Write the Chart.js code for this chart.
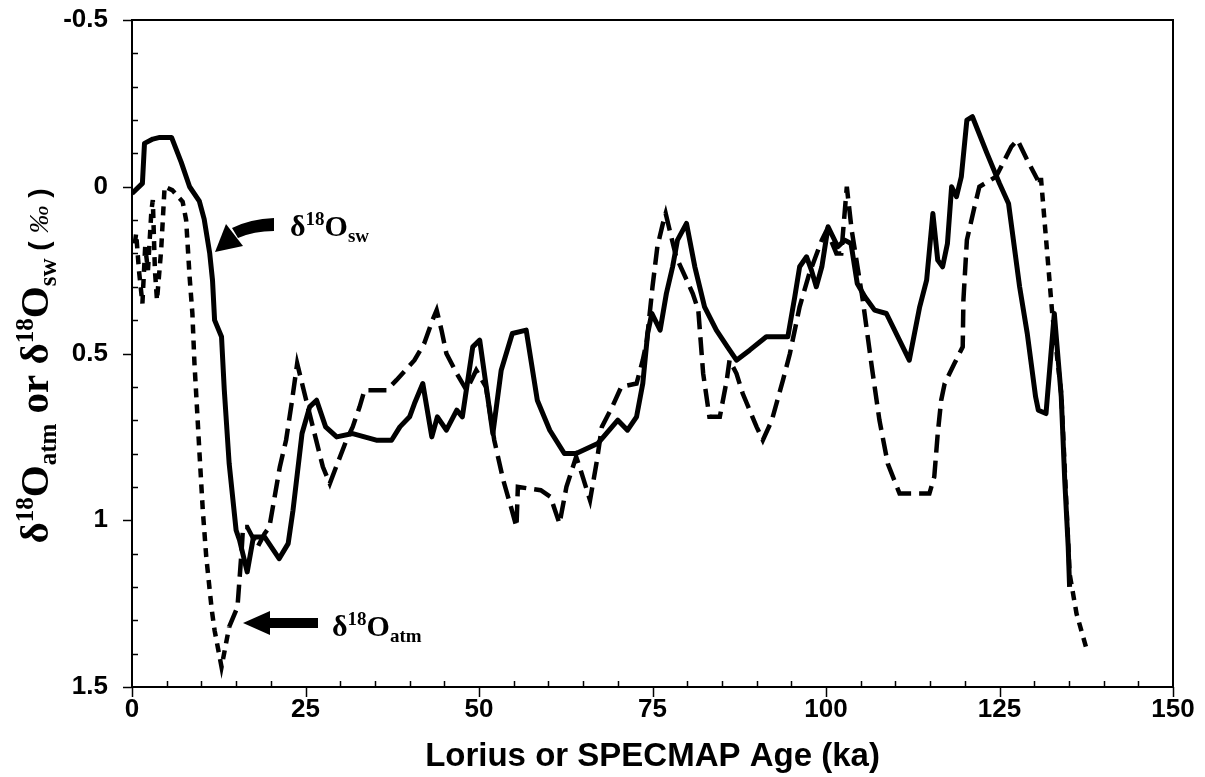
<!DOCTYPE html>
<html>
<head>
<meta charset="utf-8">
<script src="https://cdn.jsdelivr.net/npm/chart.js@4.4.1/dist/chart.umd.min.js"></script>
<style>
  html, body { margin: 0; padding: 0; background: #fff; }
  #wrap { width: 1205px; height: 777px; }
</style>
</head>
<body>
<div id="wrap"><canvas id="chart" width="1205" height="777"></canvas></div>
<script>
// d18O seawater (solid line): age in ka, value in permil
const swAge = [0, 1.5, 1.8, 3.0, 4.0, 5.7, 7.1, 8.3, 9.7, 10.4, 11.2, 11.6, 11.9, 12.9, 13.3, 14.0, 15.0, 15.5, 16.6, 17.5,
  19.1, 21.2, 22.5, 23.2, 24.5, 25.6, 26.6, 27.9, 29.5, 31.8, 35.2, 37.4, 38.6, 40.0, 40.7, 41.9, 43.2, 44.0, 45.3, 46.8,
  47.6, 49.1, 50.1, 52.0, 53.2, 54.8, 56.8, 58.4, 60.2, 62.3, 64.0, 67.1, 70.0, 71.4, 72.7, 73.6, 74.3, 74.9, 76.1, 77.0,
  77.9, 78.6, 79.9, 81.1, 82.5, 84.2, 85.8, 87.1, 89.0, 91.4, 94.5, 95.5, 96.2, 97.2, 97.9, 98.6, 99.4, 100.3, 101.0, 101.7,
  102.7, 103.6, 104.5, 105.6, 107.0, 108.7, 112.0, 113.5, 114.5, 115.4, 116.1, 116.8, 117.5, 118.1, 118.8, 119.5, 120.3, 121.1, 123.2, 125.0,
  126.3, 127.9, 129.0, 130.2, 130.6, 131.7, 132.9, 133.9, 134.4, 134.9, 135.1];
const swVal = [0.02, -0.01, -0.13, -0.143, -0.148, -0.148, -0.073, 0.0, 0.043, 0.097, 0.2, 0.28, 0.40, 0.45, 0.61, 0.83, 1.03, 1.06, 1.155, 1.05,
  1.05, 1.115, 1.07, 0.97, 0.74, 0.66, 0.64, 0.72, 0.75, 0.74, 0.76, 0.76, 0.72, 0.69, 0.65, 0.59, 0.75, 0.69, 0.73, 0.67,
  0.69, 0.48, 0.46, 0.74, 0.55, 0.44, 0.43, 0.64, 0.73, 0.80, 0.80, 0.77, 0.70, 0.73, 0.69, 0.59, 0.44, 0.38, 0.43, 0.32,
  0.24, 0.16, 0.11, 0.24, 0.36, 0.43, 0.48, 0.52, 0.49, 0.45, 0.45, 0.33, 0.24, 0.21, 0.25, 0.30, 0.24, 0.12, 0.15, 0.18,
  0.16, 0.17, 0.29, 0.33, 0.37, 0.38, 0.52, 0.36, 0.28, 0.08, 0.22, 0.24, 0.17, 0.0, 0.03, -0.03, -0.20, -0.21, -0.10, -0.01,
  0.05, 0.30, 0.44, 0.63, 0.67, 0.68, 0.38, 0.63, 0.88, 1.08, 1.20];

// d18O atmosphere (dashed line)
const atmAge = [0.4, 0.6, 1.0, 1.5, 1.9, 2.3, 2.8, 3.0, 3.3, 3.6, 4.2, 4.7, 5.8, 7.3, 7.8, 8.3, 8.7, 9.0, 9.3, 9.7,
  10.2, 10.7, 11.5, 11.9, 12.9, 14.0, 15.2, 15.8, 16.0, 16.6, 18.1, 19.1, 19.8, 21.3, 22.2, 23.0, 23.8, 25.1, 26.3, 27.5,
  28.5, 29.6, 30.9, 31.8, 32.8, 33.5, 34.7, 36.7, 38.1, 40.7, 42.1, 43.3, 43.9, 44.6, 45.3, 46.8, 48.2, 49.6, 51.0, 52.2,
  53.5, 54.6, 55.4, 55.6, 58.9, 60.3, 61.6, 62.6, 64.0, 64.5, 66.0, 67.0, 67.7, 69.2, 70.5, 72.7, 73.6, 74.2, 75.0, 75.7,
  76.5, 76.9, 77.7, 78.4, 79.5, 80.8, 81.6, 82.3, 83.2, 84.7, 85.7, 86.1, 87.1, 88.0, 90.0, 90.9, 92.2, 93.8, 94.8, 96.2,
  97.6, 99.4, 100.1, 101.5, 102.2, 103.0, 103.7, 105.3, 106.6, 107.7, 108.9, 110.6, 114.9, 115.6, 116.1, 116.6, 117.1, 118.5, 119.7, 119.8,
  120.3, 121.4, 122.1, 124.5, 126.7, 127.6, 129.0, 130.5, 131.0, 132.6, 133.9, 135.1, 136.1, 137.6];
const atmVal = [0.17, 0.14, 0.25, 0.35, 0.18, 0.25, 0.07, 0.04, 0.25, 0.34, 0.19, 0.0, 0.01, 0.045, 0.1, 0.27, 0.38, 0.53, 0.64, 0.79,
  0.97, 1.11, 1.27, 1.33, 1.44, 1.32, 1.26, 1.09, 1.02, 1.02, 1.08, 1.04, 1.02, 0.84, 0.76, 0.65, 0.53, 0.64, 0.74, 0.84,
  0.89, 0.83, 0.76, 0.72, 0.66, 0.61, 0.61, 0.61, 0.58, 0.52, 0.47, 0.40, 0.37, 0.43, 0.50, 0.56, 0.61, 0.55, 0.60, 0.76,
  0.88, 0.96, 1.02, 0.90, 0.91, 0.93, 1.01, 0.90, 0.81, 0.84, 0.94, 0.82, 0.72, 0.66, 0.60, 0.59, 0.52, 0.46, 0.30, 0.18,
  0.11, 0.08, 0.15, 0.21, 0.26, 0.32, 0.37, 0.56, 0.69, 0.69, 0.58, 0.52, 0.56, 0.62, 0.72, 0.76, 0.70, 0.58, 0.50, 0.36,
  0.26, 0.16, 0.13, 0.20, 0.20, 0.0, 0.13, 0.34, 0.54, 0.70, 0.83, 0.92, 0.92, 0.87, 0.74, 0.64, 0.59, 0.53, 0.48, 0.34,
  0.16, 0.06, 0.0, -0.03, -0.12, -0.14, -0.08, -0.02, -0.02, 0.38, 0.62, 1.16, 1.28, 1.39];

// axis ticks
const xTickVals = [0, 25, 50, 75, 100, 125, 150];
const yTickVals = [-0.5, 0, 0.5, 1, 1.5];

const SERIF = '"Liberation Serif", "DejaVu Serif", serif';
const SANS = '"Liberation Sans", Arial, sans-serif';

// draw a run of text pieces (with sub/superscripts) starting at x, baseline y
function richWidth(ctx, parts) {
  let w = 0;
  parts.forEach(p => { ctx.font = p.font; w += ctx.measureText(p.t).width; });
  return w;
}
function drawRich(ctx, x, y, parts) {
  let cx = x;
  parts.forEach(p => {
    ctx.font = p.font;
    ctx.fillText(p.t, cx, y + (p.dy || 0));
    cx += ctx.measureText(p.t).width;
  });
}
function isoLabel(size, sub) {
  const big = 'bold ' + size + 'px ' + SERIF;
  const small = 'bold ' + Math.round(size * 0.62) + 'px ' + SERIF;
  return [
    { t: 'δ', font: big },
    { t: '18', font: small, dy: -size * 0.36 },
    { t: 'O', font: big },
    { t: sub, font: small, dy: size * 0.2 }
  ];
}

const decor = {
  id: 'decor',
  afterDraw(chart) {
    const ctx = chart.ctx;
    const a = chart.chartArea;
    const xs = chart.scales.x, ys = chart.scales.y;
    ctx.save();
    ctx.strokeStyle = '#000';
    ctx.fillStyle = '#000';
    ctx.lineWidth = 2;
    ctx.strokeRect(a.left, a.top, a.right - a.left, a.bottom - a.top);

    // x tick marks: major below the axis, minor inside
    ctx.lineWidth = 1.5;
    for (let v = 0; v <= 150; v += 5) {
      const px = Math.round(xs.getPixelForValue(v)) + 0.5;
      ctx.beginPath();
      if (v % 25 === 0) { ctx.moveTo(px, a.bottom); ctx.lineTo(px, a.bottom + 10); }
      else { ctx.moveTo(px, a.bottom); ctx.lineTo(px, a.bottom - 6); }
      ctx.stroke();
    }
    // y tick marks
    for (let i = 0; i <= 20; i++) {
      const v = -0.5 + i * 0.1;
      const py = Math.round(ys.getPixelForValue(v)) + 0.5;
      ctx.beginPath();
      if (i % 5 === 0) { ctx.moveTo(a.left - 9, py); ctx.lineTo(a.left, py); }
      else { ctx.moveTo(a.left, py); ctx.lineTo(a.left + 6, py); }
      ctx.stroke();
    }

    // y axis title, rotated
    const title = isoLabel(41, 'atm').concat(
      [{ t: ' or ', font: 'bold 41px ' + SERIF }],
      isoLabel(41, 'sw'),
      [{ t: ' ( ', font: 'bold 28px ' + SANS },
       { t: '‰', font: 'italic 28px ' + SERIF },
       { t: ' )', font: 'bold 28px ' + SANS }]
    );
    ctx.save();
    ctx.translate(48, 366);
    ctx.rotate(-Math.PI / 2);
    ctx.textBaseline = 'alphabetic';
    const tw = richWidth(ctx, title);
    drawRich(ctx, -tw / 2, 0, title);
    ctx.restore();

    // annotation: d18Osw with curved arrow
    ctx.textBaseline = 'alphabetic';
    drawRich(ctx, 290, 236, isoLabel(30, 'sw'));
    ctx.beginPath();
    ctx.moveTo(274, 218);
    ctx.quadraticCurveTo(250, 219, 232, 228);
    ctx.lineTo(238, 238);
    ctx.quadraticCurveTo(254, 231, 274, 231);
    ctx.closePath();
    ctx.fill();
    ctx.beginPath();
    ctx.moveTo(215, 252);
    ctx.lineTo(226, 224);
    ctx.lineTo(243, 246);
    ctx.closePath();
    ctx.fill();

    // annotation: d18Oatm with straight arrow
    drawRich(ctx, 332, 636, isoLabel(30, 'atm'));
    ctx.fillRect(266, 618, 52, 10);
    ctx.beginPath();
    ctx.moveTo(243, 623);
    ctx.lineTo(270, 611);
    ctx.lineTo(270, 635);
    ctx.closePath();
    ctx.fill();
    ctx.restore();
  }
};

const toPoints = (xs, ys) => xs.map((x, i) => ({ x: x, y: ys[i] }));

new Chart(document.getElementById('chart'), {
  type: 'line',
  data: {
    datasets: [
      {
        label: 'δ18Oatm',
        data: toPoints(atmAge, atmVal),
        borderColor: '#000',
        borderWidth: 4.5,
        pointRadius: 0,
        tension: 0,
        borderCapStyle: 'butt',
        segment: {
          borderDash: c => {
            const x = c.p0.parsed.x;
            return (x < 14 || x >= 130) ? [9, 7] : [18, 8];
          }
        }
      },
      {
        label: 'δ18Osw',
        data: toPoints(swAge, swVal),
        borderColor: '#000',
        borderWidth: 5,
        pointRadius: 0,
        tension: 0,
        borderJoinStyle: 'round'
      }
    ]
  },
  options: {
    responsive: false,
    animation: false,
    devicePixelRatio: 1,
    layout: { padding: { left: 0, right: 32, top: 20, bottom: 0 } },
    plugins: {
      legend: { display: false },
      tooltip: { enabled: false }
    },
    scales: {
      x: {
        type: 'linear',
        min: 0,
        max: 150,
        afterBuildTicks: s => { s.ticks = xTickVals.map(v => ({ value: v })); },
        afterFit: s => { s.height = 90; },
        grid: { display: false, drawTicks: false },
        border: { display: false },
        ticks: { color: '#000', padding: 7, font: { family: SANS, size: 26, weight: 'bold' } },
        title: {
          display: true,
          text: 'Lorius or SPECMAP Age (ka)',
          color: '#000',
          padding: { top: 0, bottom: 0 },
          font: { family: SANS, size: 33, weight: 'bold' }
        }
      },
      y: {
        type: 'linear',
        reverse: true,
        min: -0.5,
        max: 1.5,
        afterBuildTicks: s => { s.ticks = yTickVals.map(v => ({ value: v })); },
        afterFit: s => { s.width = 132; s.paddingTop = 0; s.paddingBottom = 0; },
        grid: { display: false, drawTicks: false },
        border: { display: false },
        ticks: {
          color: '#000',
          padding: 24,
          font: { family: SANS, size: 26, weight: 'bold' },
          callback: v => String(v)
        }
      }
    }
  },
  plugins: [decor]
});
</script>
</body>
</html>
